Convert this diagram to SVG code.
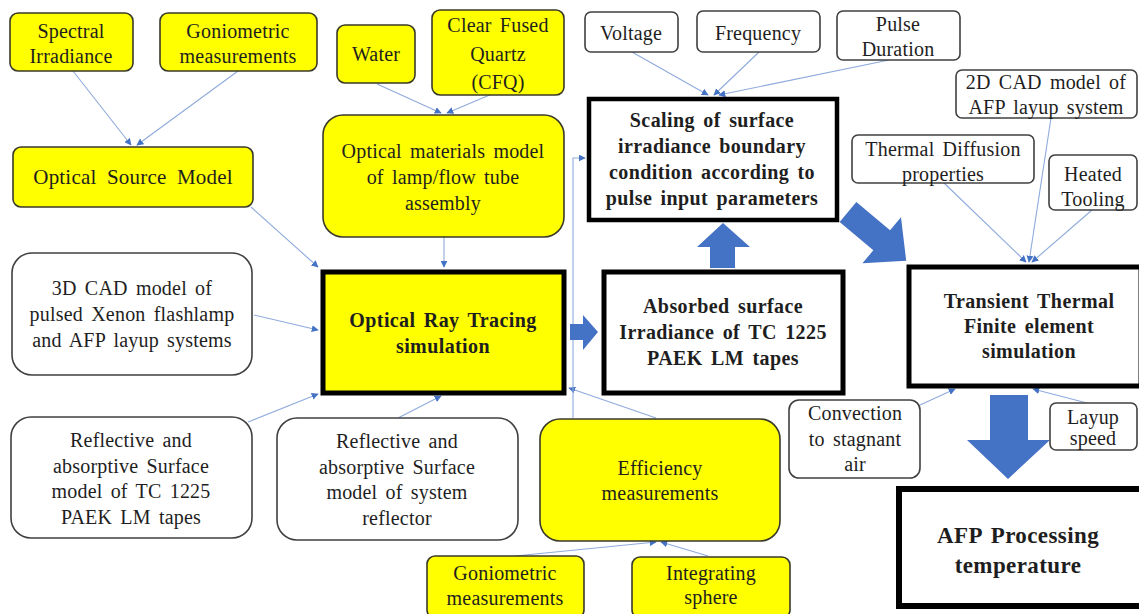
<svg xmlns="http://www.w3.org/2000/svg" width="1139" height="614" viewBox="0 0 1139 614">
<defs>
<style>
.y{fill:#ffff00;stroke:#3a3a2a;stroke-width:1.6}
.w{fill:#ffffff;stroke:#404040;stroke-width:1.6}
.k{fill:#ffffff;stroke:#000000;stroke-width:5}
.ky{fill:#ffff00;stroke:#000000;stroke-width:5}
.t{font-family:"Liberation Serif","Times New Roman",serif;font-size:20px;text-anchor:middle;fill:#1e1e1e;word-spacing:3px;letter-spacing:0.2px}
.b{font-weight:bold;letter-spacing:0.4px}
.c{fill:none;stroke:#8faadc;stroke-width:1.1;marker-end:url(#ah)}
.fat{fill:#4472c4;stroke:none}
</style>
<marker id="ah" viewBox="0 0 10 10" refX="9" refY="5" markerWidth="7" markerHeight="7" markerUnits="userSpaceOnUse" orient="auto">
<path d="M0,0 L10,5 L0,10 z" fill="#4472c4"/>
</marker>
</defs>
<rect width="1139" height="614" fill="#ffffff"/>

<g id="connectors">
<path class="c" d="M73,71 L131,145"/>
<path class="c" d="M238,71 L137,145"/>
<path class="c" d="M377,84 L441,113"/>
<path class="c" d="M492,94 L447,113"/>
<path class="c" d="M251,207 L318,267"/>
<path class="c" d="M444,237 L444,267"/>
<path class="c" d="M254,315 L318,330"/>
<path class="c" d="M248,422 L318,394"/>
<path class="c" d="M398,418 L441,396"/>
<path class="c" d="M656,418 L569,388"/>
<path class="c" d="M573,418 L573,158 L585,158"/>
<path class="c" d="M632,52 L708,95"/>
<path class="c" d="M759,52 L714,95"/>
<path class="c" d="M889,60 L719,95"/>
<path class="c" d="M944,183 L1026,262"/>
<path class="c" d="M1051,118 L1029,262"/>
<path class="c" d="M1092,210 L1032,262"/>
<path class="c" d="M920,405 L955,389"/>
<path class="c" d="M1087,403 L1033,389"/>
<path class="c" d="M515,556 L656,542"/>
<path class="c" d="M708,556 L661,542"/>
<polygon class="fat" points="570,324 583,324 583,315 598,332 583,350 583,340 570,340"/>
<polygon class="fat" points="710,268 710,247 697,247 723,223 750,247 735,247 735,268"/>
<polygon class="fat" transform="translate(848,212) rotate(40)" points="0,-13 44,-13 44,-30 76,0 44,30 44,13 0,13"/>
<polygon class="fat" points="990,395 1028,395 1028,440 1050,440 1008,479 967,440 990,440"/>
</g>

<g id="n-spectral"><rect class="y" x="10" y="13" width="123" height="58" rx="8"/>
<text class="t" x="71" y="38">Spectral</text><text class="t" x="71" y="63">Irradiance</text></g>

<g id="n-gonio-top"><rect class="y" x="160" y="13" width="157" height="58" rx="8"/>
<text class="t" x="238" y="38">Goniometric</text><text class="t" x="238" y="63">measurements</text></g>

<g id="n-water"><rect class="y" x="337" y="25" width="78" height="58" rx="8"/>
<text class="t" x="376" y="61">Water</text></g>

<g id="n-cfq"><rect class="y" x="432" y="10" width="132" height="85" rx="8"/>
<text class="t" x="498" y="32">Clear Fused</text><text class="t" x="498" y="61">Quartz</text><text class="t" x="498" y="89">(CFQ)</text></g>

<g id="n-osm"><rect class="y" x="13" y="147" width="240" height="60" rx="8"/>
<text class="t" x="133" y="184" style="font-size:21px;word-spacing:5px">Optical Source Model</text></g>

<g id="n-materials"><rect class="y" x="323" y="115" width="241" height="122" rx="20"/>
<text class="t" x="443" y="158">Optical materials model</text><text class="t" x="443" y="184">of lamp/flow tube</text><text class="t" x="443" y="210">assembly</text></g>

<g id="n-voltage"><rect class="w" x="585" y="12" width="93" height="40" rx="6"/>
<text class="t" x="631" y="40">Voltage</text></g>

<g id="n-frequency"><rect class="w" x="697" y="11" width="123" height="41" rx="6"/>
<text class="t" x="758" y="40">Frequency</text></g>

<g id="n-pulse"><rect class="w" x="837" y="11" width="123" height="49" rx="6"/>
<text class="t" x="898" y="31">Pulse</text><text class="t" x="898" y="56">Duration</text></g>

<g id="n-scaling"><rect class="k" x="589" y="99" width="248" height="121" style="stroke-width:4.5"/>
<text class="t b" x="712" y="127">Scaling of surface</text><text class="t b" x="712" y="153">irradiance  boundary</text><text class="t b" x="712" y="179">condition according to</text><text class="t b" x="712" y="205">pulse input parameters</text></g>

<g id="n-cad2d"><rect class="w" x="956" y="70" width="181" height="48" rx="6"/>
<text class="t" x="1046" y="89">2D CAD model of</text><text class="t" x="1046" y="114">AFP layup  system</text></g>

<g id="n-thermal"><rect class="w" x="852" y="135" width="182" height="48" rx="6"/>
<text class="t" x="943" y="156">Thermal Diffusion</text><text class="t" x="943" y="181">properties</text></g>

<g id="n-heated"><rect class="w" x="1049" y="155" width="88" height="55" rx="6"/>
<text class="t" x="1093" y="181">Heated</text><text class="t" x="1093" y="206">Tooling</text></g>

<g id="n-cad3d"><rect class="w" x="12" y="253" width="240" height="122" rx="20"/>
<text class="t" x="132" y="295">3D CAD model of</text><text class="t" x="132" y="321">pulsed Xenon flashlamp</text><text class="t" x="132" y="347">and AFP layup systems</text></g>

<g id="n-ort"><rect class="ky" x="323" y="272" width="241" height="121"/>
<text class="t b" x="443" y="327">Optical Ray Tracing</text><text class="t b" x="443" y="353">simulation</text></g>

<g id="n-absorbed"><rect class="k" x="604" y="272" width="239" height="121"/>
<text class="t b" x="723" y="313">Absorbed surface</text><text class="t b" x="723" y="339">Irradiance  of TC 1225</text><text class="t b" x="723" y="365">PAEK LM tapes</text></g>

<g id="n-transient"><rect class="k" x="909" y="267" width="232" height="119"/>
<text class="t b" x="1029" y="308">Transient  Thermal</text><text class="t b" x="1029" y="333">Finite element</text><text class="t b" x="1029" y="358">simulation</text></g>

<g id="n-refl1"><rect class="w" x="11" y="417" width="241" height="121" rx="20"/>
<text class="t" x="131" y="447">Reflective  and</text><text class="t" x="131" y="473">absorptive Surface</text><text class="t" x="131" y="498">model of TC 1225</text><text class="t" x="131" y="524">PAEK LM tapes</text></g>

<g id="n-refl2"><rect class="w" x="277" y="418" width="241" height="122" rx="20"/>
<text class="t" x="397" y="448">Reflective  and</text><text class="t" x="397" y="474">absorptive Surface</text><text class="t" x="397" y="499">model of system</text><text class="t" x="397" y="525">reflector</text></g>

<g id="n-efficiency"><rect class="y" x="540" y="419" width="240" height="122" rx="20"/>
<text class="t" x="660" y="475">Efficiency</text><text class="t" x="660" y="500">measurements</text></g>

<g id="n-convection"><rect class="w" x="789" y="400" width="131" height="78" rx="10"/>
<text class="t" x="855" y="420">Convection</text><text class="t" x="855" y="446">to stagnant</text><text class="t" x="855" y="471">air</text></g>

<g id="n-layup"><rect class="w" x="1050" y="403" width="87" height="47" rx="6"/>
<text class="t" x="1093" y="424">Layup</text><text class="t" x="1093" y="445">speed</text></g>

<g id="n-gonio-bottom"><rect class="y" x="427" y="556" width="157" height="62" rx="8"/>
<text class="t" x="505" y="580">Goniometric</text><text class="t" x="505" y="605">measurements</text></g>

<g id="n-integrating"><rect class="y" x="632" y="557" width="158" height="61" rx="8"/>
<text class="t" x="711" y="580">Integrating</text><text class="t" x="711" y="604">sphere</text></g>

<g id="n-afp"><rect class="k" x="899" y="489" width="243" height="117" style="stroke-width:6"/>
<text class="t b" x="1018" y="543" style="font-size:23px">AFP Processing</text><text class="t b" x="1018" y="573" style="font-size:23px">temperature</text></g>
</svg>
